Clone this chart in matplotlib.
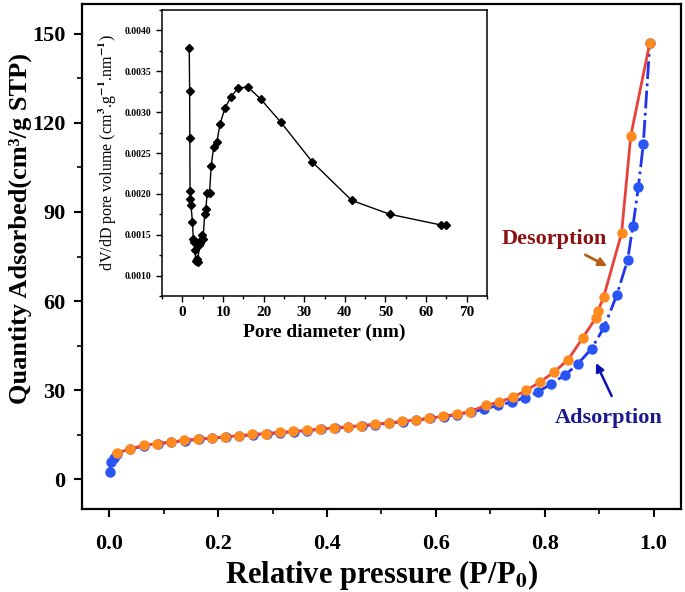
import matplotlib
matplotlib.use("Agg")
from matplotlib import pyplot as plt
from matplotlib.ticker import MultipleLocator

plt.rcParams['font.family'] = ['Liberation Serif', 'DejaVu Serif']
plt.rcParams['font.weight'] = 'bold'
plt.rcParams['mathtext.fontset'] = 'stix'

# isotherm, adsorption branch
ads_p = [0.001, 0.003, 0.008, 0.015, 0.039, 0.064, 0.089, 0.114, 0.139, 0.164,
         0.189, 0.214, 0.239, 0.264, 0.289, 0.314, 0.339, 0.364, 0.389, 0.414,
         0.439, 0.464, 0.489, 0.514, 0.539, 0.564, 0.589, 0.614, 0.639, 0.664,
         0.689, 0.714, 0.739, 0.763, 0.788, 0.812, 0.838, 0.861, 0.886, 0.909,
         0.932, 0.952, 0.962, 0.972, 0.981, 0.993]
ads_q = [2.5, 5.8, 7.3, 8.6, 10.2, 11.2, 11.9, 12.5, 13.0, 13.4,
         13.8, 14.2, 14.6, 15.0, 15.3, 15.7, 16.0, 16.4, 16.8, 17.2,
         17.6, 18.0, 18.4, 18.9, 19.4, 19.9, 20.5, 21.1, 21.8, 22.6,
         23.6, 24.9, 26.0, 27.5, 29.4, 32.2, 35.2, 38.9, 44.0, 51.2,
         61.9, 73.7, 85.4, 98.5, 113.0, 147.0]

# desorption branch
des_p = [0.014, 0.039, 0.063, 0.088, 0.113, 0.138, 0.163, 0.188, 0.213, 0.238,
         0.263, 0.288, 0.313, 0.338, 0.363, 0.388, 0.413, 0.438, 0.463, 0.488,
         0.513, 0.538, 0.563, 0.588, 0.613, 0.638, 0.663, 0.692, 0.716, 0.742,
         0.766, 0.791, 0.817, 0.843, 0.870, 0.894, 0.898, 0.908, 0.941, 0.958,
         0.993]
des_q = [8.8, 10.3, 11.4, 12.0, 12.6, 13.1, 13.5, 13.9, 14.3, 14.7,
         15.1, 15.4, 15.8, 16.1, 16.5, 16.9, 17.3, 17.7, 18.1, 18.5,
         19.0, 19.5, 20.0, 20.6, 21.2, 21.9, 22.8, 24.9, 26.0, 27.7,
         29.9, 32.7, 36.1, 40.3, 47.7, 54.4, 56.8, 61.3, 82.8, 115.7,
         147.0]

# pore size distribution (inset)
pore_d = [1.7, 1.8, 1.85, 1.9, 2.0, 2.1, 2.5, 2.7, 2.9, 3.1,
          3.3, 3.6, 3.9, 4.1, 4.4, 4.7, 4.9, 5.1, 5.5, 5.8,
          6.1, 6.7, 7.1, 7.7, 8.5, 9.3, 10.5, 11.9, 13.6, 16.1,
          19.3, 24.2, 32.0, 41.7, 51.1, 63.6, 64.8]
pore_v = [0.00379, 0.00326, 0.00269, 0.00203, 0.00194, 0.00187, 0.00166, 0.00145, 0.00141, 0.00131,
          0.00118, 0.00120, 0.00117, 0.00137, 0.00140, 0.00144, 0.00150, 0.00145, 0.00175, 0.00181,
          0.00201, 0.00201, 0.00234, 0.00257, 0.00263, 0.00286, 0.00305, 0.00318, 0.00329, 0.00331,
          0.00316, 0.00288, 0.00239, 0.00192, 0.00175, 0.00162, 0.00162]

fig = plt.figure(figsize=(6.85, 5.92), dpi=100)
ax = fig.add_axes([0.1197, 0.1402, 0.8743, 0.853])

ax.plot(ads_p, ads_q, color='#2233ee', ls='-.', lw=2, marker='o', ms=6.5,
        mfc='#2a55f5', mec='#2a55f5', zorder=3)
ax.plot(des_p, des_q, color='#e8403a', ls='-', lw=2, marker='o', ms=6.5,
        mfc='#ff8a1e', mec='#ff8a1e', zorder=4)

ax.set_xlim(-0.05, 1.05)
ax.set_ylim(-10, 160)
ax.xaxis.set_major_locator(MultipleLocator(0.2))
ax.xaxis.set_minor_locator(MultipleLocator(0.1))
ax.yaxis.set_major_locator(MultipleLocator(30))
ax.yaxis.set_minor_locator(MultipleLocator(15))
ax.tick_params(which='major', direction='out', length=6, width=1.5, labelsize=16, pad=6)
ax.tick_params(which='minor', direction='out', length=3.5, width=1.2)
ax.tick_params(axis='x', pad=12)
for s in ax.spines.values():
    s.set_linewidth(1.6)
ax.xaxis.set_major_formatter(plt.FuncFormatter(lambda v, p: f"{v:.1f}"))

ax.set_xlabel('Relative pressure (P/P$_\\mathbf{0}$)', fontsize=22, fontweight='bold')
ax.xaxis.set_label_coords(0.5, -0.098)
ax.set_ylabel('Quantity Adsorbed(cm³/g STP)', fontsize=19, fontweight='bold')
ax.yaxis.set_label_coords(-0.083, 0.556)

ax.text(0.818, 81, 'Desorption', color='#8b1010', fontsize=16, fontweight='bold',
        ha='center', va='center')
ax.annotate('', xy=(0.919, 71.3), xytext=(0.870, 76.0),
            arrowprops=dict(arrowstyle='-|>', color='#b5601a', lw=2, mutation_scale=12))
ax.text(0.918, 20.5, 'Adsorption', color='#1a1a8c', fontsize=16, fontweight='bold',
        ha='center', va='center')
ax.annotate('', xy=(0.892, 40.0), xytext=(0.925, 27.2),
            arrowprops=dict(arrowstyle='-|>', color='#1010b0', lw=1.8, mutation_scale=12))

# inset
ins = fig.add_axes([0.2365, 0.5, 0.4745, 0.483])
ins.plot(pore_d, pore_v, color='black', lw=1, marker='D', ms=4, mfc='black', mec='black')
ins.set_xlim(-5, 75)
ins.set_ylim(0.00075, 0.00425)
ins.xaxis.set_major_locator(MultipleLocator(10))
ins.xaxis.set_minor_locator(MultipleLocator(5))
ins.yaxis.set_major_locator(MultipleLocator(0.0005))
ins.yaxis.set_minor_locator(MultipleLocator(0.00025))
ins.yaxis.set_major_formatter(plt.FuncFormatter(lambda v, p: f"{v:.4f}"))
ins.tick_params(axis='x', which='major', direction='out', length=4, width=1, labelsize=11)
ins.tick_params(axis='y', which='major', direction='out', length=4, width=1, labelsize=7)
ins.tick_params(which='minor', direction='out', length=2.5, width=1)
for s in ins.spines.values():
    s.set_linewidth(1.1)
ins.set_xlabel('Pore diameter (nm)', fontsize=14, fontweight='bold', labelpad=3)
ins.set_ylabel('dV/dD pore volume (cm$^3$.g$^{-1}$.nm$^{-1}$)', fontsize=11.5,
               fontweight='normal', labelpad=4)

fig.savefig('out.png', dpi=100)
